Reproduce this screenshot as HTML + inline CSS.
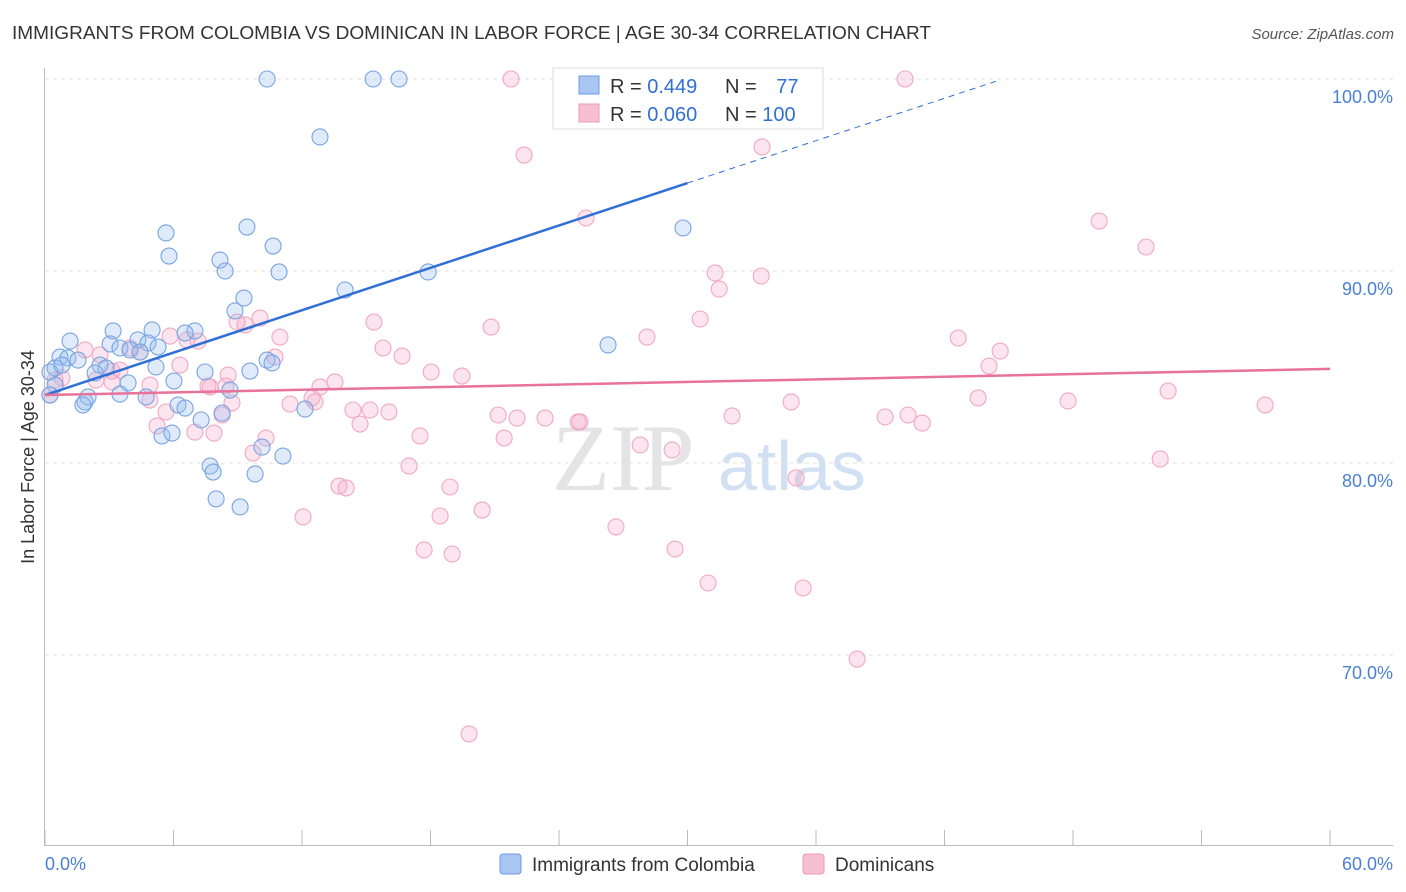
<!DOCTYPE html>
<html><head><meta charset="utf-8"><style>
body{margin:0;background:#fff;font-family:"Liberation Sans",sans-serif;}
svg{display:block}
</style></head><body>
<svg id="chart" width="1406" height="892">
<text x="12" y="39" font-size="18" fill="#333" textLength="919" lengthAdjust="spacingAndGlyphs">IMMIGRANTS FROM COLOMBIA VS DOMINICAN IN LABOR FORCE | AGE 30-34 CORRELATION CHART</text>
<text x="1394" y="39" font-size="15" fill="#555" font-style="italic" text-anchor="end">Source: ZipAtlas.com</text>
<g><text x="552" y="490" font-size="95" fill="#e4e4e4" font-family="Liberation Serif,serif">ZIP</text><text x="718" y="490" font-size="70" fill="#d2e0f3">atlas</text></g>
<g id="grid"></g><g id="axes"></g><g id="marks"></g><g id="trends"></g>
<text transform="translate(34,457) rotate(-90)" font-size="18" fill="#333" text-anchor="middle">In Labor Force | Age 30-34</text>
<g>
<rect x="553" y="68" width="270" height="61" fill="#fff" stroke="#ddd"/>
<rect x="579" y="76" width="20" height="18" fill="#a9c6f2" stroke="#6a9be0"/>
<rect x="579" y="104" width="20" height="18" fill="#f7bfd2" stroke="#ec9ab8"/>
<text x="610" y="93" font-size="20" fill="#333">R = <tspan fill="#2f6fd6">0.449</tspan></text>
<text x="725" y="93" font-size="20" fill="#333">N = <tspan fill="#2f6fd6" dx="14">77</tspan></text>
<text x="610" y="121" font-size="20" fill="#333">R = <tspan fill="#2f6fd6">0.060</tspan></text>
<text x="725" y="121" font-size="20" fill="#333">N = <tspan fill="#2f6fd6">100</tspan></text>
</g>
<g>
<rect x="500" y="854" width="21" height="20" rx="3" fill="#a9c6f2" stroke="#6a9be0"/>
<text x="532" y="871" font-size="19" fill="#333">Immigrants from Colombia</text>
<rect x="803" y="854" width="21" height="20" rx="3" fill="#f7bfd2" stroke="#ec9ab8"/>
<text x="835" y="871" font-size="19" fill="#333">Dominicans</text>
</g>
</svg>
<script>
const yTicks=[100,90,80,70];
const yTickLabels=["100.0%","90.0%","80.0%","70.0%"];
const xTickVals=[0,6,12,18,24,30,36,42,48,54,60];
const xEndLabels=["0.0%","60.0%"];
const colX=[10.37,15.32,16.53,24.14,12.84,5.65,5.79,9.43,10.65,8.17,8.41,10.93,17.89,29.79,14.01,9.29,8.87,1.17,3.18,5.0,7.0,6.54,3.04,4.34,4.81,5.28,3.5,3.97,4.44,26.29,0.7,1.07,1.54,2.57,2.85,0.47,0.23,5.18,10.37,10.6,7.47,9.57,2.34,3.88,6.02,8.64,3.5,2.01,1.87,1.77,4.72,6.21,6.54,8.27,12.14,7.29,5.46,5.93,7.71,7.85,10.13,9.81,11.11,7.99,9.11,0.47,0.23,0.79];
const colY=[100,100,100,100,96.98,91.98,90.78,92.29,91.3,90.57,90,89.95,89.95,92.24,89.01,88.59,87.92,86.35,86.88,86.93,86.88,86.77,86.2,86.41,86.25,86.04,85.99,85.89,85.78,86.15,85.52,85.47,85.36,85.1,84.95,84.95,84.74,85.0,85.36,85.21,84.74,84.79,84.69,84.17,84.27,83.8,83.59,83.44,83.18,83.02,83.44,83.02,82.86,82.6,82.81,82.24,81.41,81.56,79.84,79.53,80.83,79.43,80.36,78.13,77.71,84.06,83.54,85.1];
const domX=[21.76,28.35,40.16,22.37,33.48,25.26,49.22,51.41,31.29,31.48,33.44,30.59,20.83,28.11,42.64,15.36,44.6,15.78,16.67,18.03,19.47,44.08,10.97,9.34,10.04,8.97,6.63,7.15,5.84,6.3,1.87,2.57,3.97,4.44,10.74,8.55,7.71,12.84,13.54,12.47,12.61,11.44,14.38,15.18,16.06,14.71,21.16,22.04,23.35,24.89,21.44,17.51,24.98,34.84,39.23,40.3,40.96,43.57,47.77,52.44,56.97,52.07,32.08,27.79,29.28,35.07,17.0,18.91,18.45,20.41,12.05,13.73,14.06,17.7,19.01,26.66,29.42,30.96,35.4,37.92,19.8,4.9,5.23,5.65,7.0,7.89,8.27,8.45,7.61,10.32,9.71,2.38,3.13,0.47,0.79,3.5,3.13,4.9,8.73,0.23];
const domY=[100,100,100,96.04,96.46,92.76,92.6,91.25,89.9,89.06,89.74,87.5,87.08,86.56,86.51,87.34,85.83,85.99,85.57,84.74,84.53,85.05,86.56,87.19,87.55,87.34,86.41,86.35,86.61,85.1,85.89,85.63,85.99,85.78,85.52,84.58,83.96,83.96,84.22,83.39,83.18,83.07,82.76,82.76,82.66,82.03,82.5,82.34,82.34,82.14,81.3,81.41,82.14,83.18,82.4,82.5,82.08,83.39,83.23,83.75,83.02,80.21,82.45,80.94,80.68,79.22,79.84,78.75,77.24,77.55,77.19,78.8,78.7,75.47,75.26,76.67,75.52,73.75,73.49,69.79,65.89,83.28,81.93,82.66,81.61,81.56,82.5,84.01,84.01,81.3,80.52,84.32,84.22,84.32,84.43,84.84,84.79,84.06,83.13,83.54];
const colTrend=[83.54,0.368,30.0,44.4];
const domTrend=[83.54,0.0227,60];
const NS="http://www.w3.org/2000/svg";
const sx=v=>45+v*21.417, sy=v=>79+(100-v)*19.2;
function mk(p,t,a){const e=document.createElementNS(NS,t);for(const k in a)e.setAttribute(k,a[k]);p.appendChild(e);return e;}
const grid=document.getElementById('grid'),axes=document.getElementById('axes'),marks=document.getElementById('marks'),trends=document.getElementById('trends');
yTicks.forEach((v,i)=>{
 const l=mk(grid,'line',{x1:45,x2:1393,y1:sy(v),y2:sy(v),stroke:'#e2e2e2','stroke-dasharray':'4,4'});
 
 
 const t=mk(axes,'text',{x:1393,y:sy(v)+24,'font-size':18,fill:'#4a80d4','text-anchor':'end'});t.textContent=yTickLabels[i];
 
 
});
const ya=mk(axes,'line',{x1:44.5,x2:44.5,y1:68,y2:845,stroke:'#bbb'});


const xa=mk(axes,'line',{x1:44,x2:1393,y1:845.5,y2:845.5,stroke:'#bbb'});


xTickVals.forEach(v=>{const t=mk(axes,'line',{x1:sx(v),x2:sx(v),y1:830,y2:845,stroke:'#bbb'});
 
 });
[[0,'start',45],[60,'end',1393]].forEach((d,i)=>{const t=mk(axes,'text',{x:d[2],y:870,'font-size':18,fill:'#4a80d4','text-anchor':d[1]});t.textContent=xEndLabels[i];
 
 });
function pts(X,Y,fill,stroke,name){X.forEach((x,i)=>{const c=mk(marks,'circle',{cx:sx(x),cy:sy(Y[i]),r:8,fill:fill,stroke:stroke,'stroke-width':1.1});
 
 });}
pts(domX,domY,'rgba(245,170,200,0.3)','#f0a8c2','point-dominican');
pts(colX,colY,'rgba(150,185,240,0.3)','#78a4e2','point-colombia');
const b=mk(trends,'line',{x1:sx(0),y1:sy(colTrend[0]),x2:sx(colTrend[2]),y2:sy(colTrend[0]+colTrend[1]*colTrend[2]),stroke:'#2f6fd6','stroke-width':2.5});


const bd=mk(trends,'line',{x1:sx(colTrend[2]),y1:sy(colTrend[0]+colTrend[1]*colTrend[2]),x2:sx(colTrend[3]),y2:sy(colTrend[0]+colTrend[1]*colTrend[3]),stroke:'#2f6fd6','stroke-width':1,'stroke-dasharray':'6,5'});


const p=mk(trends,'line',{x1:sx(0),y1:sy(domTrend[0]),x2:sx(domTrend[2]),y2:sy(domTrend[0]+domTrend[1]*domTrend[2]),stroke:'#e8729a','stroke-width':2.5});


</script>
</body></html>
